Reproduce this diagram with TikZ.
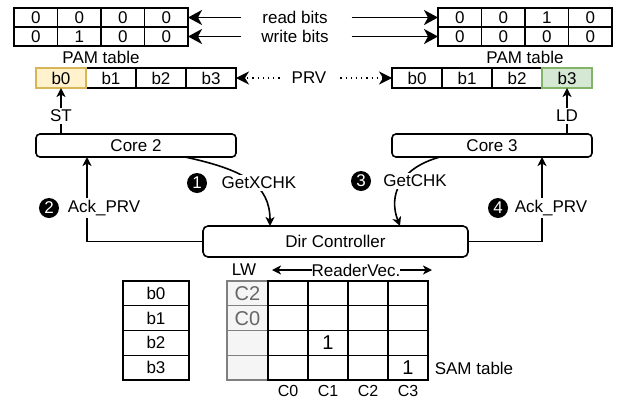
\documentclass[tikz,border=0pt]{standalone}
\usepackage{fontspec}
\setmainfont{Liberation Sans}
\usetikzlibrary{arrows.meta,calc}
\definecolor{yfill}{HTML}{FFF2CC}
\definecolor{yline}{HTML}{D6B656}
\definecolor{gfill}{HTML}{D5E8D4}
\definecolor{gline}{HTML}{82B366}
\definecolor{lwfill}{HTML}{F5F5F5}
\definecolor{lwline}{HTML}{808080}
\definecolor{lwtext}{HTML}{666666}
\newcommand\fsz{\fontsize{17}{20}\selectfont}
\newcommand\fbig{\fontsize{20}{24}\selectfont}
\newcommand\fsm{\fontsize{16}{19}\selectfont}
\begin{document}
\begin{tikzpicture}[x=1pt,y=-1pt,
  every node/.style={font=\fsz, inner sep=0pt, outer sep=0pt},
  pamcell/.style={draw, line width=1.3pt, minimum width=43.5pt, minimum height=19pt},
  prvcell/.style={draw, line width=1.3pt, minimum width=50pt, minimum height=20pt},
  samcell/.style={draw, line width=1.3pt, minimum width=66pt, minimum height=24.75pt},
  gridcell/.style={draw, line width=1.3pt, minimum width=40pt, minimum height=24.75pt},
  lwcell/.style={draw=lwline, fill=lwfill, line width=1.3pt, minimum width=41pt, minimum height=24.75pt, text=lwtext, font=\fbig},
  corebox/.style={draw, line width=1.6pt, rounded corners=4pt, minimum width=200pt, minimum height=23pt},
  lbl/.style={fill=white, inner xsep=1pt, inner ysep=2pt},
  stepnum/.style={circle, fill=black, text=white, minimum size=20pt},
  bigarr/.style={line width=1.8pt, -{Stealth[length=14pt,width=15pt,inset=4pt]}},
  dotarr/.style={line width=1.3pt, dash pattern=on 1.2pt off 4pt, -{Stealth[length=13pt,width=13pt,inset=4pt]}},
  smarr/.style={line width=1.6pt, -{Stealth[length=9pt,width=9pt,inset=2.5pt]}}]
\useasboundingbox (0,0) rectangle (618,402);

% PAM tables
\foreach \v [count=\i from 0] in {0,0,0,0}
  \node[pamcell] (La\i) at (35.75+43.5*\i,17.5) {\v};
\foreach \v [count=\i from 0] in {0,1,0,0}
  \node[pamcell] (Lw\i) at (35.75+43.5*\i,36.5) {\v};
\foreach \v [count=\i from 0] in {0,0,1,0}
  \node[pamcell] (Ra\i) at (459.75+43.5*\i,17.5) {\v};
\foreach \v [count=\i from 0] in {0,0,0,0}
  \node[pamcell] (Rw\i) at (459.75+43.5*\i,36.5) {\v};
\node (lpam) at (101,57) {PAM table};
\node (rpam) at (525,57) {PAM table};

% read / write bit arrows
\node (rb) at (295,17.5) {read bits};
\node (wb) at (295,36.5) {write bits};
\draw[bigarr] ([xshift=-21pt]rb.west) -- (La3.east);
\draw[bigarr] ([xshift=-21pt]rb.west |- wb.west) -- (Lw3.east);
\draw[bigarr] ([xshift=24pt]rb.east) -- (Ra0.west);
\draw[bigarr] ([xshift=24pt]rb.east |- wb.east) -- (Rw0.west);

% PRV registers
\foreach \v [count=\i from 0] in {b0,b1,b2,b3}
  \node[prvcell] (Lb\i) at (61+50*\i,78) {\v};
\foreach \v [count=\i from 0] in {b0,b1,b2,b3}
  \node[prvcell] (Rb\i) at (417+50*\i,78) {\v};
\node[prvcell, draw=yline, fill=yfill] at (Lb0) {b0};
\node[prvcell, draw=gline, fill=gfill] at (Rb3) {b3};
\node (prv) at (309,78) {PRV};
\draw[dotarr] ([xshift=-12pt]prv.west) -- (Lb3.east);
\draw[dotarr] ([xshift=14pt]prv.east) -- (Rb0.west);

% cores
\node[corebox] (core2) at (136,145.5) {Core 2};
\node[corebox] (core3) at (492,145.5) {Core 3};
\draw[smarr] (Lb0.south |- core2.north) -- (Lb0.south);
\node[lbl] at (61,116) {ST};
\draw[smarr] (Rb3.south |- core3.north) -- (Rb3.south);
\node[lbl] at (567,116) {LD};

% directory controller
\node[corebox, minimum width=265pt, minimum height=31pt, rounded corners=5pt] (dir) at (335.5,241.5) {Dir Controller};

% messages
\draw[smarr] (dir.west) -| ([xshift=51pt]core2.south west);
\draw[smarr] (dir.east) -| ([xshift=150pt]core3.south west);
\draw[smarr] ([xshift=149pt]core2.south west) .. controls (245,170) and (270,185) .. ([xshift=-65.5pt]dir.north);
\draw[smarr] ([xshift=48pt]core3.south west) .. controls (400,168) and (388,195) .. ([xshift=64.5pt]dir.north);

\node[stepnum] (n1) at (197,183) {1};
\node[lbl] (m1) at (259,183) {GetXCHK};
\node[stepnum] (n2) at (49,208) {2};
\node[lbl] (m2) at (104,208) {Ack\_PRV};
\node[stepnum] (n3) at (361,181) {3};
\node[lbl] (m3) at (415,181) {GetCHK};
\node[stepnum] (n4) at (498,208) {4};
\node[lbl] (m4) at (551,208) {Ack\_PRV};

% SAM table
\foreach \v [count=\i from 0] in {b0,b1,b2,b3}
  \node[samcell] (s\i) at (156,293.375+24.75*\i) {\v};
\foreach \v [count=\i from 0] in {C2,C0,{},{}}
  \node[lwcell] (lw\i) at (247.5,293.375+24.75*\i) {\v};
\foreach \r in {0,1,2,3}
  \foreach \c in {0,1,2,3}
    \node[gridcell] (g\r\c) at (288+40*\c,293.375+24.75*\r) {};
\node[font=\fbig] at (g21) {1};
\node[font=\fbig] at (g33) {1};
\node (lw) at (244,270) {LW};
\node (rv) at (356,270) {ReaderVec.};
\coordinate (rvl) at (272,270);
\coordinate (rvr) at (432,270);
\draw[smarr] (rv.west) -- (rvl);
\draw[smarr] (rv.east) -- (rvr);
\foreach \c in {0,1,2,3}
  \node[font=\fsm] at (288+40*\c,391) {C\c};
\node (samlbl) at (474,368) {SAM table};
\end{tikzpicture}
\end{document}
